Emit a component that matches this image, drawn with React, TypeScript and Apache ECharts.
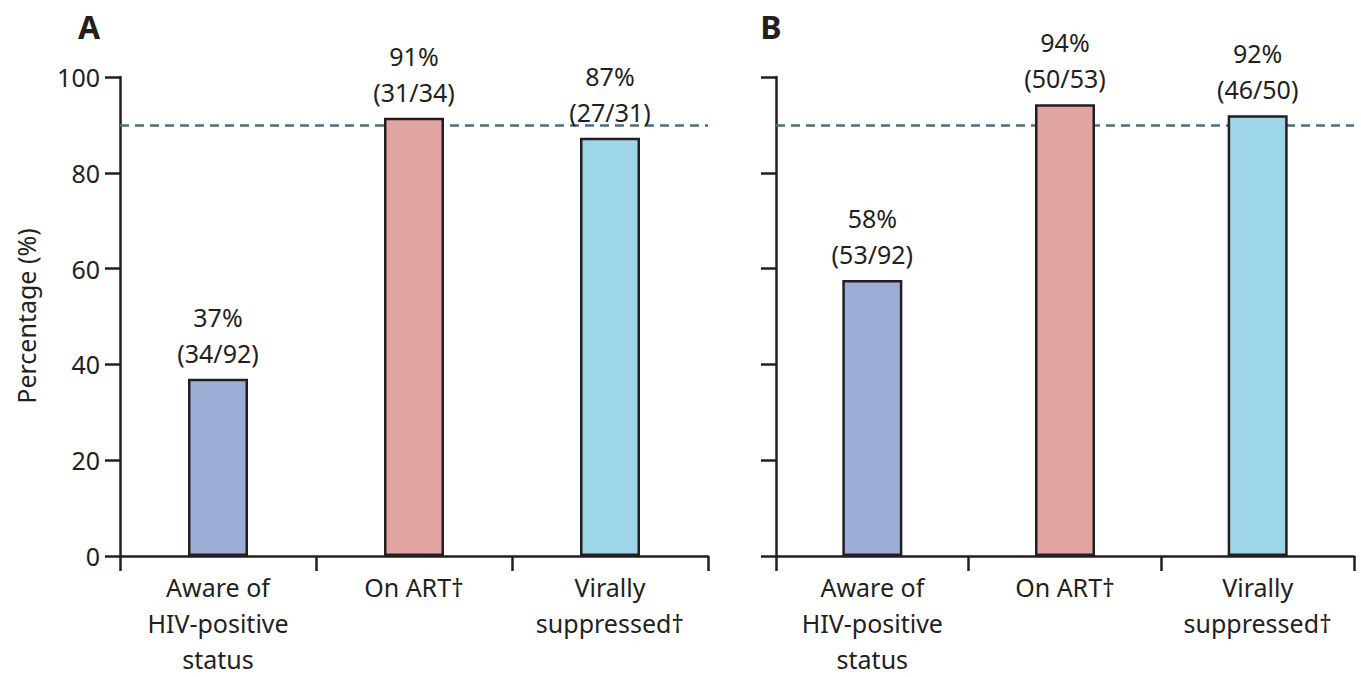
import React, { useEffect, useRef } from "react";
import * as echarts from "echarts";

const categories = ["Aware of\nHIV-positive\nstatus", "On ART†", "Virally\nsuppressed†"];
const valuesA = [37.0, 91.5, 87.3];
const valuesB = [57.6, 94.3, 92.0];
const pctA = ["37%", "91%", "87%"];
const fracA = ["(34/92)", "(31/34)", "(27/31)"];
const pctB = ["58%", "94%", "92%"];
const fracB = ["(53/92)", "(50/53)", "(46/50)"];
const panelLetters = ["A", "B"];
const barColors = ["#9DAED6", "#E1A6A1", "#9DD6E8"];
const targetLevel = 90;
const yTitle = "Percentage (%)";

const INK = "#231f20";
const FONT = "'Noto Sans', 'Open Sans', sans-serif";

export default function App() {
  const ref = useRef<HTMLDivElement>(null);
  useEffect(() => {
    if (!ref.current) return;
    const chart = echarts.init(ref.current, null, { renderer: "svg" });
    const grids = [
      { left: 120, top: 77, width: 588, height: 483 },
      { left: 776, top: 77, width: 578, height: 483 },
    ];
    const axisLineStyle = { color: INK, width: 2.5 };
    const xAxes = grids.map((_, i) => ({
      type: "category",
      gridIndex: i,
      data: categories,
      axisLine: { show: true, lineStyle: axisLineStyle },
      axisTick: { show: true, length: 15, alignWithLabel: false, lineStyle: axisLineStyle },
      axisLabel: {
        interval: 0,
        fontSize: 25,
        lineHeight: 36,
        color: INK,
        fontFamily: FONT,
        margin: 13,
      },
      splitLine: { show: false },
    }));
    const yAxes = grids.map((_, i) => ({
      type: "value",
      gridIndex: i,
      min: 0,
      max: 100,
      interval: 20,
      axisLine: { show: true, lineStyle: axisLineStyle },
      axisTick: { show: true, length: 15, lineStyle: axisLineStyle },
      axisLabel: {
        show: i === 0,
        fontSize: 25,
        color: INK,
        fontFamily: FONT,
        margin: 20,
      },
      splitLine: { show: false },
    }));
    const panels = [
      { values: valuesA, pct: pctA, frac: fracA },
      { values: valuesB, pct: pctB, frac: fracB },
    ];
    const series: any[] = [];
    panels.forEach((p, i) => {
      series.push({
        type: "line",
        xAxisIndex: i,
        yAxisIndex: i,
        data: [],
        z: 1,
        silent: true,
        markLine: {
          z: 1,
          silent: true,
          symbol: ["none", "none"],
          label: { show: false },
          lineStyle: { type: [9, 6], color: "#4d6e7a", width: 2.5 },
          data: [{ yAxis: targetLevel }],
        },
      });
      series.push({
        type: "bar",
        xAxisIndex: i,
        yAxisIndex: i,
        z: 5,
        barWidth: 60,
        data: p.values.map((v, k) => ({ value: v, itemStyle: { color: barColors[k] } })),
        itemStyle: { borderColor: INK, borderWidth: 2.5 },
        label: {
          show: true,
          position: "top",
          distance: 8,
          fontSize: 25,
          lineHeight: 36,
          color: INK,
          fontFamily: FONT,
          formatter: (params: any) => p.pct[params.dataIndex] + "\n" + p.frac[params.dataIndex],
        },
      });
    });
    chart.setOption({
      animation: false,
      backgroundColor: "#ffffff",
      grid: grids,
      xAxis: xAxes,
      yAxis: yAxes,
      series,
      graphic: [
        {
          type: "text",
          x: 89,
          y: 26,
          style: { text: panelLetters[0], fontSize: 32, fontWeight: "bold", fontFamily: FONT, fill: INK, align: "center", verticalAlign: "middle" },
        },
        {
          type: "text",
          x: 771,
          y: 26,
          style: { text: panelLetters[1], fontSize: 32, fontWeight: "bold", fontFamily: FONT, fill: INK, align: "center", verticalAlign: "middle" },
        },
        {
          type: "text",
          x: 26,
          y: 316,
          rotation: Math.PI / 2,
          style: { text: yTitle, fontSize: 25, fontFamily: FONT, fill: INK, align: "center", verticalAlign: "middle" },
        },
      ],
    });
    return () => chart.dispose();
  }, []);
  return <div ref={ref} style={{ position: "absolute", left: 0, top: 0, width: 1361, height: 677 }} />;
}
